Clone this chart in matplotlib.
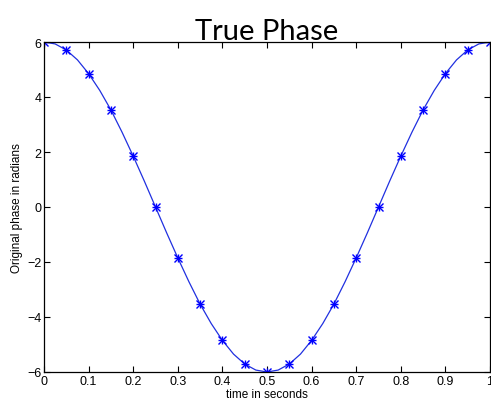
import matplotlib
matplotlib.use("Agg")
import matplotlib.pyplot as plt

# marker samples (every 0.05 s)
t_marks = [0.00, 0.05, 0.10, 0.15, 0.20, 0.25, 0.30, 0.35, 0.40, 0.45, 0.50,
           0.55, 0.60, 0.65, 0.70, 0.75, 0.80, 0.85, 0.90, 0.95, 1.00]
phase_marks = [6.00, 5.71, 4.85, 3.53, 1.85, 0.00, -1.85, -3.53, -4.85, -5.71, -6.00,
               -5.71, -4.85, -3.53, -1.85, 0.00, 1.85, 3.53, 4.85, 5.71, 6.00]

# the smooth line, read at a finer step (every 0.025 s)
t_line = [0.000, 0.025, 0.050, 0.075, 0.100, 0.125, 0.150, 0.175, 0.200, 0.225,
          0.250, 0.275, 0.300, 0.325, 0.350, 0.375, 0.400, 0.425, 0.450, 0.475,
          0.500, 0.525, 0.550, 0.575, 0.600, 0.625, 0.650, 0.675, 0.700, 0.725,
          0.750, 0.775, 0.800, 0.825, 0.850, 0.875, 0.900, 0.925, 0.950, 0.975, 1.000]
phase_line = [6.00, 5.93, 5.71, 5.35, 4.85, 4.24, 3.53, 2.72, 1.85, 0.94,
              0.00, -0.94, -1.85, -2.72, -3.53, -4.24, -4.85, -5.35, -5.71, -5.93,
              -6.00, -5.93, -5.71, -5.35, -4.85, -4.24, -3.53, -2.72, -1.85, -0.94,
              0.00, 0.94, 1.85, 2.72, 3.53, 4.24, 4.85, 5.35, 5.71, 5.93, 6.00]

x_ticks = [0, 0.1, 0.2, 0.3, 0.4, 0.5, 0.6, 0.7, 0.8, 0.9, 1]
x_labels = ["0", "0.1", "0.2", "0.3", "0.4", "0.5", "0.6", "0.7", "0.8", "0.9", "1"]
y_ticks = [-6, -4, -2, 0, 2, 4, 6]

fig = plt.figure(figsize=(4.91, 4.10), dpi=100)
ax = fig.add_axes([44 / 491, 37 / 410, 446 / 491, 330 / 410])

ax.plot(t_line, phase_line, color="#2030e0", linewidth=0.9)
# matlab-style asterisk: a plus and a cross on top of each other
for m in ("+", "x"):
    ax.plot(t_marks, phase_marks, linestyle="none", marker=m, markersize=6,
            color="#0000ff", markeredgewidth=1.0)

ax.set_xlim(0, 1)
ax.set_ylim(-6, 6)
ax.set_xticks(x_ticks)
ax.set_xticklabels(x_labels)
ax.set_yticks(y_ticks)
ax.tick_params(direction="in", top=True, right=True, length=4, width=0.8,
               labelsize=9, pad=2)
for lab in ax.get_xticklabels() + ax.get_yticklabels():
    lab.set_family("Liberation Sans")
for sp in ax.spines.values():
    sp.set_linewidth(0.9)

ax.set_xlabel("time in seconds", fontsize=8.5, family="Liberation Sans", labelpad=1)
ax.set_ylabel("Original phase in radians", fontsize=8.5, family="Liberation Sans",
              labelpad=3)
ax.set_title("True Phase", fontsize=21, family="Lato", color="black", pad=2)

fig.savefig("out.png", dpi=100)
